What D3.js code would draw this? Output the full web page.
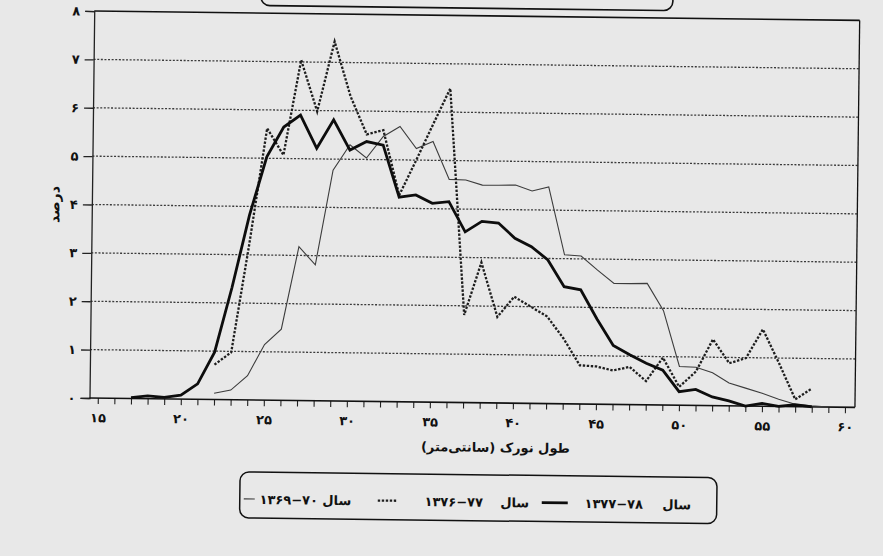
<!DOCTYPE html>
<html>
<head>
<meta charset="utf-8">
<script src="https://cdn.jsdelivr.net/npm/d3@7"></script>
<style>
  html, body { margin: 0; padding: 0; background: #e8e8e8; }
  svg { display: block; }
  text { font-family: "DejaVu Sans", sans-serif; fill: #111; }
</style>
</head>
<body>
<svg id="chart" width="883" height="556"></svg>
<script>
// Length classes (cm) shared by all three survey periods
const lengthClasses = [15,16,17,18,19,20,21,22,23,24,25,26,27,28,29,30,31,32,33,34,35,36,37,38,39,40,
  41,42,43,44,45,46,47,48,49,50,51,52,53,54,55,56,57,58,59,60];

// Percentage of catch in each length class (null = no record)
const pct1377 = [null,null,0.02,0.06,0.03,0.08,0.32,0.98,2.32,3.82,5.03,5.65,5.90,5.22,5.81,5.19,5.37,5.30,
  4.23,4.28,4.11,4.15,3.53,3.75,3.72,3.41,3.24,2.97,2.42,2.36,1.76,1.22,1.03,0.86,0.72,0.28,0.33,0.18,0.10,
  0.00,0.06,0.00,0.04,0.00,null,null];
const pct1376 = [null,null,null,null,null,null,null,0.72,0.98,3.2,5.62,5.07,7.04,5.98,7.43,6.3,5.52,5.61,
  4.27,5.0,5.75,6.49,1.81,2.9,1.78,2.2,2.0,1.8,1.35,0.8,0.78,0.70,0.78,0.49,0.98,0.38,0.70,1.37,0.88,0.99,
  1.59,0.89,0.15,0.38,null,null];
const pct1369 = [null,null,null,null,null,null,null,0.13,0.2,0.5,1.15,1.47,3.18,2.81,4.77,5.3,5.03,5.48,
  5.69,5.24,5.39,4.61,4.6,4.5,4.5,4.51,4.39,4.48,3.08,3.06,2.77,2.5,2.5,2.51,1.95,0.8,0.79,0.68,0.47,0.37,
  0.27,0.15,0.05,0.02,0.0,null];

// Axis tick values
const xTickValues = [15,20,25,30,35,40,45,50,55,60];
const yTickValues = [0,1,2,3,4,5,6,7,8];

// Legend entries
const legendWord = "سال";
const legendYears = ["۱۳۷۷−۷۸", "۱۳۷۶−۷۷", "۱۳۶۹−۷۰"];

const xTitle = "طول نورک (سانتی‌متر)";
const yTitle = "درصد";

const faDigits = "۰۱۲۳۴۵۶۷۸۹";
const fa = n => String(n).replace(/\d/g, d => faDigits[+d]);

const W = 883, H = 556;
const plot = { left: 89.5, right: 855, top: 11, bottom: 398 };

const x = d3.scaleLinear().domain([14.5, 60.6]).range([plot.left, plot.right]);
const y = d3.scaleLinear().domain([0, 8]).range([plot.bottom, plot.top]);

const svg = d3.select("#chart");
svg.append("rect").attr("width", W).attr("height", H).attr("fill", "#e8e8e8");

// The whole sheet sits at a slight tilt
const root = svg.append("g")
  .attr("transform", `rotate(0.7 ${plot.left} ${plot.bottom})`);

// Title frame, mostly above the page edge
root.append("rect")
  .attr("x", 256).attr("y", -60).attr("width", 412).attr("height", 63.5)
  .attr("rx", 9).attr("fill", "none").attr("stroke", "#111").attr("stroke-width", 1.6);

// Horizontal grid
root.append("g").selectAll("line")
  .data(yTickValues.filter(v => v > 0 && v < 8))
  .join("line")
  .attr("x1", plot.left).attr("x2", plot.right)
  .attr("y1", d => y(d)).attr("y2", d => y(d))
  .attr("stroke", "#3a3a3a").attr("stroke-width", 1.3)
  .attr("stroke-dasharray", "2,1.6");

// Frame: top and right edges
root.append("line")
  .attr("x1", plot.left).attr("x2", plot.right)
  .attr("y1", y(8)).attr("y2", y(8))
  .attr("stroke", "#111").attr("stroke-width", 1.6);
root.append("line")
  .attr("x1", plot.right).attr("x2", plot.right)
  .attr("y1", y(8)).attr("y2", y(0))
  .attr("stroke", "#111").attr("stroke-width", 1.3);

// Y axis
const yAxis = d3.axisLeft(y).tickValues(yTickValues).tickSize(9).tickPadding(5).tickFormat(fa);
const gy = root.append("g").attr("transform", `translate(${plot.left},0)`).call(yAxis);
gy.select(".domain").attr("stroke", "#222").attr("stroke-width", 1.3);
gy.selectAll(".tick line").attr("stroke", "#222").attr("stroke-width", 1.3);
gy.selectAll(".tick text")
  .attr("font-size", 13).attr("font-weight", "bold").attr("fill", "#111")
  .attr("font-family", "DejaVu Sans");

// X axis with a tick at every length class
const xAxis = d3.axisBottom(x).tickValues(lengthClasses).tickSize(6).tickPadding(9)
  .tickFormat(d => xTickValues.includes(d) ? fa(d) : "");
const gx = root.append("g").attr("transform", `translate(0,${plot.bottom})`).call(xAxis);
gx.select(".domain").remove();
gx.append("line").attr("x1", plot.left).attr("x2", plot.right)
  .attr("stroke", "#111").attr("stroke-width", 1.6);
gx.selectAll(".tick line").attr("stroke", "#222").attr("stroke-width", 1.1);
gx.selectAll(".tick text")
  .attr("font-size", 13).attr("font-weight", "bold").attr("fill", "#111")
  .attr("font-family", "DejaVu Sans");

// Axis titles
root.append("text")
  .attr("x", 496).attr("y", 447)
  .attr("text-anchor", "middle").attr("direction", "rtl")
  .attr("font-size", 13).attr("font-weight", "bold")
  .text(xTitle);
root.append("text")
  .attr("transform", `translate(57,205) rotate(-90)`)
  .attr("text-anchor", "middle").attr("direction", "rtl")
  .attr("font-size", 14).attr("font-weight", "bold")
  .text(yTitle);

// Series
const seriesDefs = [
  { values: pct1369, stroke: "#3c3c3c", width: 1.1, dash: null },
  { values: pct1376, stroke: "#1e1e1e", width: 2.3, dash: "2.4,1.6" },
  { values: pct1377, stroke: "#0d0d0d", width: 2.8, dash: null }
];
const line = d3.line()
  .defined(d => d.v != null)
  .x(d => x(d.len))
  .y(d => y(d.v));

seriesDefs.forEach(s => {
  const pts = lengthClasses.map((len, i) => ({ len, v: s.values[i] }));
  root.append("path")
    .datum(pts)
    .attr("d", line)
    .attr("fill", "none")
    .attr("stroke", s.stroke)
    .attr("stroke-width", s.width)
    .attr("stroke-linejoin", "miter")
    .attr("stroke-dasharray", s.dash);
});

// Legend
const lg = root.append("g");
lg.append("rect")
  .attr("x", 241).attr("y", 470).attr("width", 477).attr("height", 46)
  .attr("rx", 9).attr("fill", "none").attr("stroke", "#111").attr("stroke-width", 1.5);

const legendItems = [
  { year: legendYears[0], word: 678, num: 615, sample: [543, 569], style: seriesDefs[2] },
  { year: legendYears[1], word: 516, num: 455, sample: [379, 399], style: seriesDefs[1] },
  { year: legendYears[2], word: 338, num: 290, sample: [245, 256], style: seriesDefs[0] }
];
const legendY = 497;
legendItems.forEach(it => {
  lg.append("text")
    .attr("x", it.word).attr("y", legendY + 5)
    .attr("text-anchor", "middle").attr("direction", "rtl")
    .attr("font-size", 13).attr("font-weight", "bold")
    .text(legendWord);
  lg.append("text")
    .attr("x", it.num).attr("y", legendY + 5)
    .attr("text-anchor", "middle")
    .attr("font-size", 13).attr("font-weight", "bold")
    .text(it.year);
  lg.append("line")
    .attr("x1", it.sample[0]).attr("x2", it.sample[1])
    .attr("y1", legendY).attr("y2", legendY)
    .attr("stroke", it.style.stroke)
    .attr("stroke-width", it.style.width)
    .attr("stroke-dasharray", it.style.dash);
});
</script>
</body>
</html>
